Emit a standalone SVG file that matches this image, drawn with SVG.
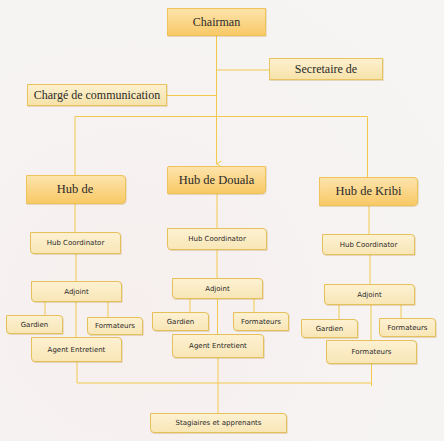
<svg xmlns="http://www.w3.org/2000/svg" width="444" height="441" viewBox="0 0 444 441">
<defs>
<linearGradient id="gMain" x1="0" y1="0" x2="0" y2="1">
<stop offset="0" stop-color="#fde4ad"/>
<stop offset="1" stop-color="#f8c865"/>
</linearGradient>
<linearGradient id="gSec" x1="0" y1="0" x2="0" y2="1">
<stop offset="0" stop-color="#fdf0cf"/>
<stop offset="1" stop-color="#f6e2a9"/>
</linearGradient>
<linearGradient id="gLight" x1="0" y1="0" x2="0" y2="1">
<stop offset="0" stop-color="#fdf1d2"/>
<stop offset="1" stop-color="#f8e6b6"/>
</linearGradient>
<radialGradient id="bgG" cx="0.3" cy="0.7" r="0.8">
<stop offset="0" stop-color="#f6efee"/>
<stop offset="1" stop-color="#f6f5f4"/>
</radialGradient>
<marker id="arr" markerWidth="8" markerHeight="8" refX="4" refY="6" orient="auto" markerUnits="userSpaceOnUse">
<path d="M1,1 L4,6 L7,1" fill="none" stroke="#f2c94c" stroke-width="1"/>
</marker>
<filter id="sh" x="-10%" y="-10%" width="130%" height="140%">
<feDropShadow dx="0.6" dy="0.8" stdDeviation="0.6" flood-color="#b08a3a" flood-opacity="0.35"/>
</filter>
</defs>
<style>
.main{fill:url(#gMain);stroke:#eec35a;stroke-width:1;filter:url(#sh)}
.sec{fill:url(#gSec);stroke:#e8c35e;stroke-width:1;filter:url(#sh)}
.lt{fill:url(#gLight);stroke:#e6c05a;stroke-width:1;filter:url(#sh)}
.ser{font-family:"Liberation Serif","DejaVu Serif",serif;font-size:12px;fill:#2a2a2a;text-anchor:middle;dominant-baseline:central}
.hub{font-family:"Liberation Serif","DejaVu Serif",serif;font-size:12.5px;fill:#2a2a2a;text-anchor:middle;dominant-baseline:central}
.sm{font-family:"DejaVu Sans","Liberation Sans",sans-serif;font-size:7px;fill:#2a2a2a;text-anchor:middle;dominant-baseline:central}
.ln{fill:none;stroke:#f2c94c;stroke-width:1}
</style>
<rect x="0" y="0" width="444" height="441" fill="url(#bgG)"/>

<g id="connectors">
<path class="ln" d="M216.5,35 V164" marker-end="url(#arr)"/>
<path class="ln" d="M216.5,70 H269"/>
<path class="ln" d="M167,95.5 H216.5"/>
<path class="ln" d="M75,116.5 H367.5"/>
<path class="ln" d="M75,116.5 V175"/>
<path class="ln" d="M367.5,116.5 V177"/>
<path class="ln" d="M75,203 V232"/>
<path class="ln" d="M76,253 V281"/>
<path class="ln" d="M45,302 V315"/>
<path class="ln" d="M108,302 V317"/>
<path class="ln" d="M76,302 V337"/>
<path class="ln" d="M77,361 V383 H371.5"/>
<path class="ln" d="M217,193 V228"/>
<path class="ln" d="M217,249 V278"/>
<path class="ln" d="M190,299 V312"/>
<path class="ln" d="M254,299 V312"/>
<path class="ln" d="M217.5,299 V334"/>
<path class="ln" d="M218,358 V413"/>
<path class="ln" d="M369,205 V234"/>
<path class="ln" d="M370,254 V284"/>
<path class="ln" d="M339,305 V319"/>
<path class="ln" d="M401,305 V318"/>
<path class="ln" d="M371,305 V340"/>
<path class="ln" d="M371.5,364 V386"/>
</g>

<g id="chairman">
<rect class="main" x="167.5" y="8.5" width="98" height="27"/>
<text class="ser" x="216.5" y="22">Chairman</text>
</g>
<g id="secretaire">
<rect class="sec" x="269.5" y="58.5" width="113" height="21"/>
<text class="ser" x="326" y="69">Secretaire de</text>
</g>
<g id="charge">
<rect class="sec" x="27.5" y="84.5" width="139" height="21"/>
<text class="ser" x="97" y="95">Chargé de communication</text>
</g>

<g id="hub-de">
<path class="main" d="M26.5,175.5 H122 Q125.5,175.5 125.5,179 V199 Q125.5,203.5 121,203.5 H26.5 Z"/>
<text class="hub" x="75" y="189">Hub de</text>
</g>
<g id="hub-douala">
<path class="main" d="M169,166.5 H265.5 V189 Q265.5,193.5 261,193.5 H167.5 V168 Q167.5,166.5 169,166.5 Z"/>
<text class="hub" x="216.5" y="180">Hub de Douala</text>
</g>
<g id="hub-kribi">
<path class="main" d="M319.5,177.5 H414 Q417.5,177.5 417.5,181 V201 Q417.5,205.5 413,205.5 H319.5 Z"/>
<text class="hub" x="368.5" y="191">Hub de Kribi</text>
</g>

<g id="coord-left">
<path class="lt" d="M30.5,232.5 H117 Q120.5,232.5 120.5,236 V253.5 H34 Q30.5,253.5 30.5,250 Z"/>
<text class="sm" x="75.5" y="243">Hub Coordinator</text>
</g>
<g id="coord-mid">
<path class="lt" d="M167.5,228.5 H263 Q266.5,228.5 266.5,232 V249.5 H171 Q167.5,249.5 167.5,246 Z"/>
<text class="sm" x="217" y="239">Hub Coordinator</text>
</g>
<g id="coord-right">
<path class="lt" d="M322.5,234.5 H411 Q414.5,234.5 414.5,238 V254.5 H326 Q322.5,254.5 322.5,251 Z"/>
<text class="sm" x="368.5" y="244.5">Hub Coordinator</text>
</g>

<g id="adjoint-left">
<path class="lt" d="M31.5,281.5 H118 Q121.5,281.5 121.5,285 V301.5 H35 Q31.5,301.5 31.5,298 Z"/>
<text class="sm" x="76.5" y="291.5">Adjoint</text>
</g>
<g id="adjoint-mid">
<path class="lt" d="M172.5,278.5 H259 Q262.5,278.5 262.5,282 V298.5 H176 Q172.5,298.5 172.5,295 Z"/>
<text class="sm" x="217.5" y="288.5">Adjoint</text>
</g>
<g id="adjoint-right">
<path class="lt" d="M324.5,284.5 H411 Q414.5,284.5 414.5,288 V304.5 H328 Q324.5,304.5 324.5,301 Z"/>
<text class="sm" x="369.5" y="294.5">Adjoint</text>
</g>

<g id="gardien-left">
<path class="lt" d="M6.5,315.5 H59 Q62.5,315.5 62.5,319 V333.5 H10 Q6.5,333.5 6.5,330 Z"/>
<text class="sm" x="34.5" y="324.5">Gardien</text>
</g>
<g id="formateurs-left">
<path class="lt" d="M87.5,317.5 H139 Q142.5,317.5 142.5,321 V334.5 H91 Q87.5,334.5 87.5,331 Z"/>
<text class="sm" x="115" y="326">Formateurs</text>
</g>
<g id="agent-left">
<path class="lt" d="M31.5,337.5 H118 Q121.5,337.5 121.5,341 V361.5 H35 Q31.5,361.5 31.5,358 Z"/>
<text class="sm" x="76.5" y="349.5">Agent Entretient</text>
</g>

<g id="gardien-mid">
<path class="lt" d="M152.5,312.5 H205 Q208.5,312.5 208.5,316 V330.5 H156 Q152.5,330.5 152.5,327 Z"/>
<text class="sm" x="180.5" y="321.5">Gardien</text>
</g>
<g id="formateurs-mid">
<path class="lt" d="M233.5,312.5 H285 Q288.5,312.5 288.5,316 V330.5 H237 Q233.5,330.5 233.5,327 Z"/>
<text class="sm" x="261" y="321.5">Formateurs</text>
</g>
<g id="agent-mid">
<path class="lt" d="M172.5,334.5 H260 Q263.5,334.5 263.5,338 V357.5 H176 Q172.5,357.5 172.5,354 Z"/>
<text class="sm" x="218" y="346">Agent Entretient</text>
</g>

<g id="gardien-right">
<path class="lt" d="M301.5,319.5 H354 Q357.5,319.5 357.5,323 V337.5 H305 Q301.5,337.5 301.5,334 Z"/>
<text class="sm" x="329.5" y="328.5">Gardien</text>
</g>
<g id="formateurs-right">
<path class="lt" d="M379.5,318.5 H432 Q435.5,318.5 435.5,322 V336.5 H383 Q379.5,336.5 379.5,333 Z"/>
<text class="sm" x="407.5" y="327.5">Formateurs</text>
</g>
<g id="formateurs-right2">
<path class="lt" d="M326.5,340.5 H413 Q416.5,340.5 416.5,344 V363.5 H330 Q326.5,363.5 326.5,360 Z"/>
<text class="sm" x="371.5" y="352">Formateurs</text>
</g>

<g id="stagiaires">
<path class="lt" d="M150.5,413.5 H283 Q286.5,413.5 286.5,417 V432.5 H154 Q150.5,432.5 150.5,429 Z"/>
<text class="sm" x="218.5" y="423">Stagiaires et apprenants</text>
</g>
</svg>
